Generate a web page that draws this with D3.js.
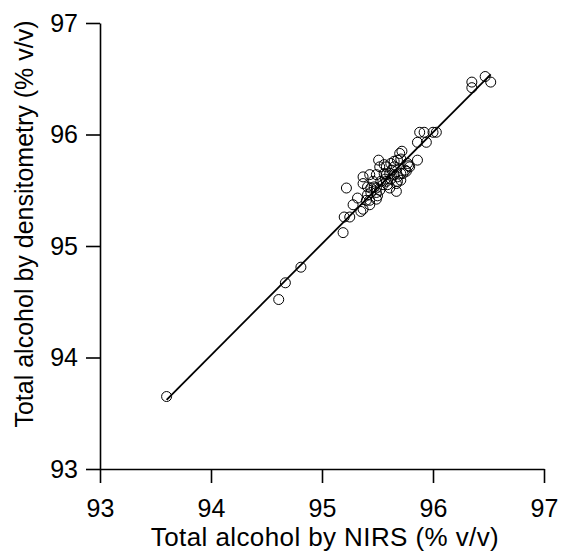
<!DOCTYPE html>
<html>
<head>
<meta charset="utf-8">
<script src="https://cdn.jsdelivr.net/npm/d3@7"></script>
<style>
  body { margin: 0; background: #fff; }
  text { font-family: "Liberation Sans", Arial, sans-serif; fill: #000; }
</style>
</head>
<body>
<div id="wrapper"></div>
<script>
// valeurs NIRS (axe X) et densitometrie (axe Y)
var nirs = [93.60, 94.61, 94.67, 94.81, 95.19, 95.20, 95.25, 95.22, 95.28, 95.35,
            95.37, 95.32, 95.40, 95.43, 95.49, 95.43, 95.37, 95.43, 95.49, 95.37,
            95.41, 95.44, 95.49, 95.44, 95.49, 95.61, 95.47, 95.41, 95.53, 95.58,
            95.59, 95.67, 95.71, 95.56, 95.61, 95.58, 95.65, 95.71, 95.76, 95.73,
            95.68, 95.68, 95.67, 95.75, 95.78, 95.65, 95.68, 95.71, 95.62, 95.65,
            95.56, 95.52, 95.58, 95.51, 95.70, 95.72, 95.77, 95.79, 95.86, 95.86,
            95.94, 95.88, 95.92, 96.00, 96.03, 96.35, 96.35, 96.47, 96.52, 95.55,
            95.52, 95.57, 95.62, 95.63, 95.50, 95.46];
var densito = [93.65, 94.52, 94.67, 94.81, 95.12, 95.26, 95.26, 95.52, 95.37, 95.31,
               95.33, 95.43, 95.41, 95.41, 95.42, 95.37, 95.62, 95.64, 95.64, 95.56,
               95.46, 95.48, 95.48, 95.52, 95.52, 95.52, 95.53, 95.53, 95.58, 95.58,
               95.55, 95.56, 95.59, 95.65, 95.65, 95.64, 95.64, 95.65, 95.67, 95.65,
               95.62, 95.58, 95.49, 95.68, 95.72, 95.71, 95.77, 95.78, 95.74, 95.76,
               95.73, 95.71, 95.71, 95.77, 95.83, 95.85, 95.74, 95.71, 95.77, 95.93,
               95.93, 96.02, 96.02, 96.02, 96.02, 96.47, 96.42, 96.52, 96.47, 95.55,
               95.50, 95.60, 95.60, 95.68, 95.45, 95.58];

// droite de regression
var fitSlope = 1.0;
var fitIntercept = 0.02;
var fitRange = [93.60, 96.52];

var xTicks = [93, 94, 95, 96, 97];
var yTicks = [93, 94, 95, 96, 97];
var xTitle = 'Total alcohol by NIRS (% v/v)';
var yTitle = 'Total alcohol by densitometry (% v/v)';

var width = 561, height = 554;
var margin = {left: 100, right: 17, top: 23, bottom: 85};

var svg = d3.select('#wrapper').append('svg')
    .attr('width', width)
    .attr('height', height);

var x = d3.scaleLinear().domain([93, 97]).range([margin.left, width - margin.right]);
var y = d3.scaleLinear().domain([93, 97]).range([height - margin.bottom, margin.top]);

// axe X
var gx = svg.append('g')
    .attr('transform', 'translate(0,' + (height - margin.bottom) + ')')
    .call(d3.axisBottom(x).tickValues(xTicks).tickFormat(d3.format('d'))
        .tickSize(14).tickPadding(16).tickSizeOuter(0));

// axe Y
var gy = svg.append('g')
    .attr('transform', 'translate(' + margin.left + ',0)')
    .call(d3.axisLeft(y).tickValues(yTicks).tickFormat(d3.format('d'))
        .tickSize(14).tickPadding(8).tickSizeOuter(0));

[gx, gy].forEach(function(g) {
    g.select('.domain').attr('stroke', '#000').attr('stroke-width', 1.6);
    g.selectAll('.tick line').attr('stroke', '#000').attr('stroke-width', 1.6);
    g.selectAll('.tick text').style('font-size', '25px').attr('fill', '#000');
});

// droite
var line = d3.line()
    .x(function(d) { return x(d); })
    .y(function(d) { return y(fitSlope * d + fitIntercept); });

svg.append('path')
    .datum(fitRange)
    .attr('fill', 'none')
    .attr('stroke', '#000')
    .attr('stroke-width', 1.8)
    .attr('d', line);

// ronds
svg.selectAll('circle.pt')
    .data(nirs)
  .enter().append('circle')
    .attr('class', 'pt')
    .attr('cx', function(d) { return x(d); })
    .attr('cy', function(d, i) { return y(densito[i]); })
    .attr('r', 5)
    .attr('fill', 'none')
    .attr('stroke', '#000')
    .attr('stroke-width', 1);

// titres des axes
svg.append('text')
    .attr('x', 325)
    .attr('y', 546)
    .attr('text-anchor', 'middle')
    .style('font-size', '26px')
    .style('letter-spacing', '0.4px')
    .text(xTitle);

svg.append('text')
    .attr('transform', 'translate(33,224) rotate(-90)')
    .attr('text-anchor', 'middle')
    .style('font-size', '25px')
    .text(yTitle);
</script>
</body>
</html>
